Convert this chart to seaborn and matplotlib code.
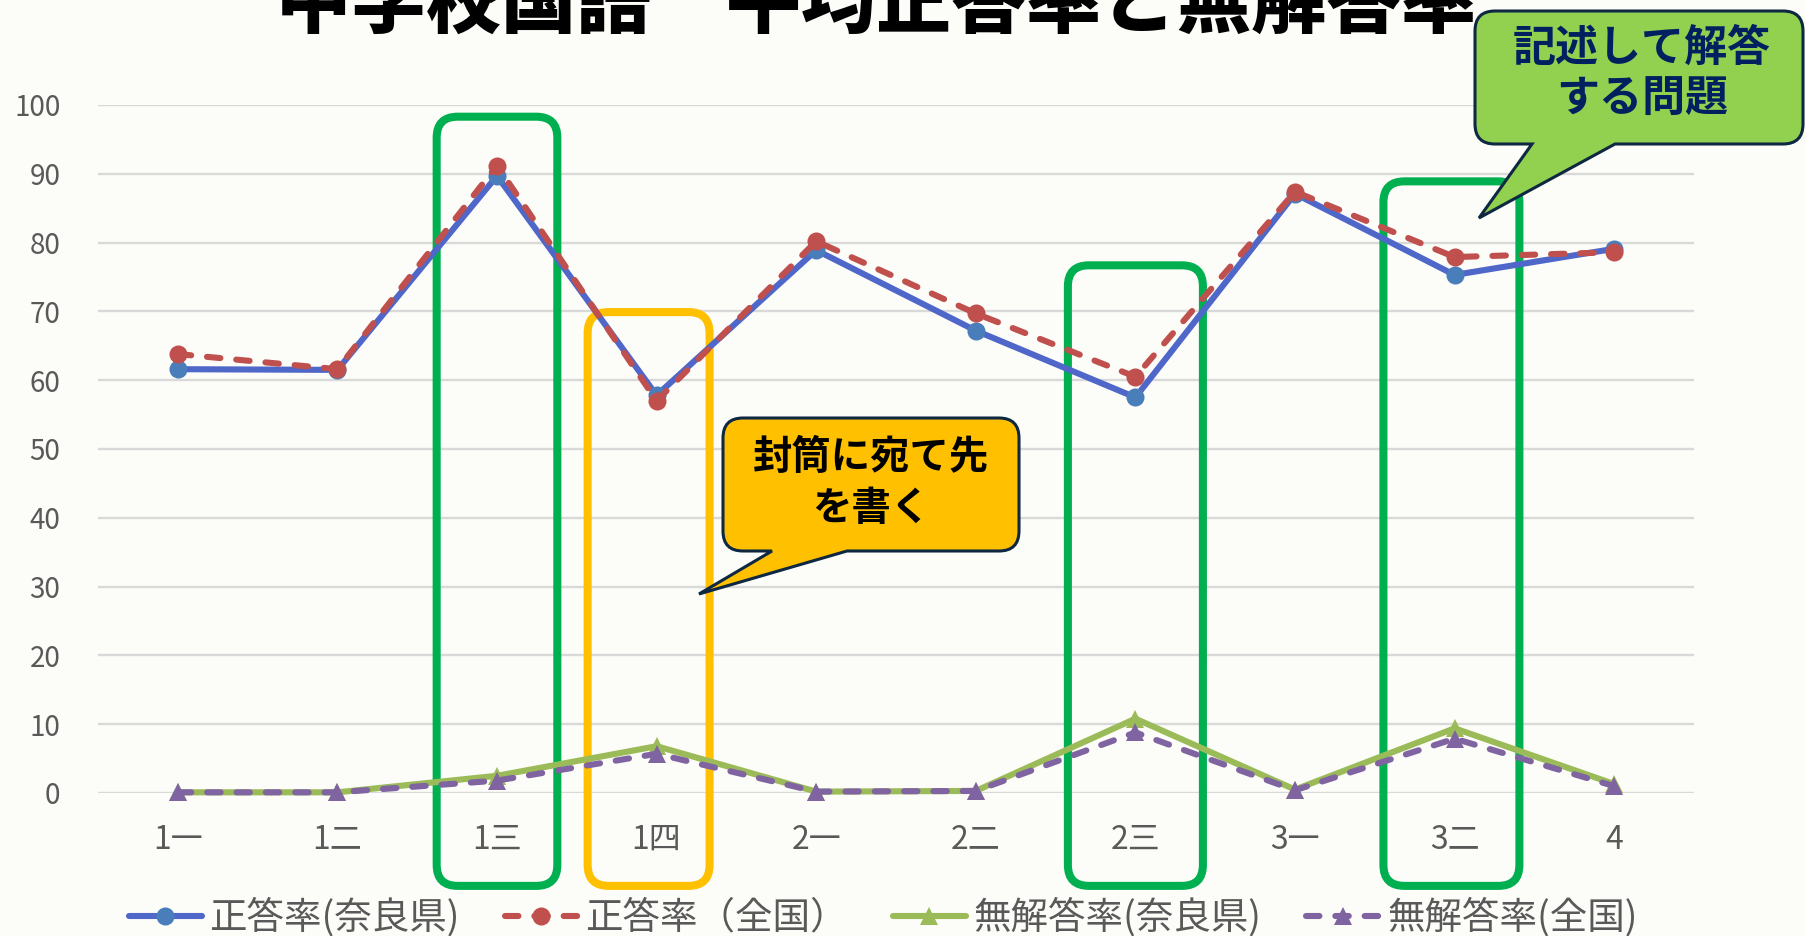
import numpy as np
import pandas as pd
import matplotlib
matplotlib.use("Agg")
import matplotlib.pyplot as plt
import seaborn as sns
from matplotlib.path import Path
from matplotlib.patches import PathPatch

# ---------------- data ----------------
categories = ["1一", "1二", "1三", "1四", "2一", "2二", "2三", "3一", "3二", "4"]
seikai_nara = [61.6, 61.5, 89.7, 57.8, 78.9, 67.2, 57.5, 87.1, 75.3, 79.1]
seikai_zenkoku = [63.8, 61.6, 91.2, 57.0, 80.2, 69.7, 60.5, 87.4, 77.9, 78.6]
mukaito_nara = [0.1, 0.1, 2.5, 6.8, 0.2, 0.3, 10.8, 0.5, 9.4, 1.3]
mukaito_zenkoku = [0.1, 0.1, 1.8, 5.7, 0.2, 0.3, 8.8, 0.4, 7.9, 1.0]
series_labels = ["正答率(奈良県)", "正答率（全国）", "無解答率(奈良県)", "無解答率(全国)"]
title_text = "中学校国語　平均正答率と無解答率"
yticks = list(range(0, 101, 10))

# highlight boxes: (category index centre, half width, top value, colour)
highlight_boxes = [(2.0, 0.378, 98.3, "#00B050"),
                   (2.95, 0.382, 69.9, "#FFC000"),
                   (6.0, 0.423, 76.7, "#00B050"),
                   (7.98, 0.426, 88.9, "#00B050")]
box_bottom = -13.5

df = pd.DataFrame({
    "問題": categories,
    "x": np.arange(len(categories)),
    series_labels[0]: seikai_nara,
    series_labels[1]: seikai_zenkoku,
    series_labels[2]: mukaito_nara,
    series_labels[3]: mukaito_zenkoku,
})

# ---------------- style ----------------
sns.set_theme(style="white")
plt.rcParams["font.family"] = ["Noto Sans CJK JP", "DejaVu Sans"]
plt.rcParams["axes.unicode_minus"] = False

W, H = 1805, 936
BG = "#FCFDF8"
fig = plt.figure(figsize=(W / 100, H / 100), dpi=100, facecolor=BG)
ax = fig.add_axes([98 / W, 1 - 793 / H, 1596 / W, 688 / H])
ax.set_facecolor(BG)

styles = [
    dict(color="#4F67C9", marker="o", mfc="#4A7EBB", ls="-", ms=13),
    dict(color="#C0504D", marker="o", mfc="#C0504D", ls="--", ms=13),
    dict(color="#9BBB59", marker="^", mfc="#9BBB59", ls="-", ms=12.5),
    dict(color="#8064A2", marker="^", mfc="#8064A2", ls="--", ms=12.5),
]

for lab, st in zip(series_labels, styles):
    sns.lineplot(data=df, x="x", y=lab, ax=ax, label=lab, color=st["color"],
                 marker=st["marker"], markersize=st["ms"], markerfacecolor=st["mfc"],
                 markeredgecolor=st["mfc"], markeredgewidth=0, linewidth=4.4,
                 errorbar=None, sort=False, zorder=3)
    line = ax.lines[-1]
    line.set_clip_on(False)
    if st["ls"] == "--":
        line.set_dashes((2.2, 2.6))
        line.set_dash_capstyle("round")
    line.set_solid_capstyle("round")

ax.set_xlim(-0.5, len(categories) - 0.5)
ax.set_ylim(0, 100)
ax.set_yticks(yticks)
ax.set_xticks(df["x"])
ax.set_xticklabels(categories)
ax.set_xlabel("")
ax.set_ylabel("")
for s in ax.spines.values():
    s.set_visible(False)
ax.yaxis.grid(True, color="#D9D9D9", linewidth=1.7)
ax.xaxis.grid(False)
ax.set_axisbelow(True)
ax.tick_params(axis="y", length=0, pad=27, labelsize=20, labelcolor="#595959")
ax.tick_params(axis="x", length=0, pad=22, labelsize=23, labelcolor="#595959")

handles, labels = ax.get_legend_handles_labels()
if ax.get_legend() is not None:
    ax.get_legend().remove()


# ---------------- helpers ----------------
def rounded_path(x0, y0, x1, y1, r, tail=None):
    """Coordinates with y downward (pixels from top). tail=(xl, xr, tipx, tipy) on bottom edge."""
    verts = [(x0 + r, y0), (x1 - r, y0), (x1, y0), (x1, y0 + r), (x1, y1 - r), (x1, y1), (x1 - r, y1)]
    codes = [Path.MOVETO, Path.LINETO, Path.CURVE3, Path.CURVE3, Path.LINETO, Path.CURVE3, Path.CURVE3]
    if tail is not None:
        xl, xr, tx, ty = tail
        verts += [(xr, y1), (tx, ty), (xl, y1)]
        codes += [Path.LINETO] * 3
    verts += [(x0 + r, y1), (x0, y1), (x0, y1 - r), (x0, y0 + r), (x0, y0), (x0 + r, y0), (x0 + r, y0)]
    codes += [Path.LINETO, Path.CURVE3, Path.CURVE3, Path.LINETO, Path.CURVE3, Path.CURVE3, Path.CLOSEPOLY]
    verts = [(vx / W, 1 - vy / H) for vx, vy in verts]
    return Path(verts, codes)


def data_to_px(x, y):
    dx, dy = ax.transData.transform((x, y))
    return dx, H - dy


# highlight boxes (behind the lines)
for cx, hw, top, col in highlight_boxes:
    xa, ya = data_to_px(cx - hw, top)
    xb, yb = data_to_px(cx + hw, box_bottom)
    p = rounded_path(xa, ya, xb, yb, 21)
    patch = PathPatch(p, transform=fig.transFigure, facecolor="none", edgecolor=col,
                      linewidth=5.8, clip_on=False, zorder=2)
    ax.add_patch(patch)

# callouts
NAVY = "#0E2841"
c1 = PathPatch(rounded_path(723, 418, 1019, 551, 20, tail=(772, 847, 699, 594)),
               transform=fig.transFigure, facecolor="#FFC000", edgecolor=NAVY,
               linewidth=2.2, zorder=10)
fig.add_artist(c1)
fig.text(871 / W, 1 - 457 / H, "封筒に宛て先", ha="center", va="center", fontsize=28.4,
         fontweight="bold", color="black", zorder=11)
fig.text(871 / W, 1 - 508 / H, "を書く", ha="center", va="center", fontsize=28.4,
         fontweight="bold", color="black", zorder=11)

c2 = PathPatch(rounded_path(1475, 11, 1803, 144, 20, tail=(1532, 1615, 1479, 218)),
               transform=fig.transFigure, facecolor="#92D050", edgecolor=NAVY,
               linewidth=2.2, zorder=10)
fig.add_artist(c2)
fig.text(1642 / W, 1 - 48 / H, "記述して解答", ha="center", va="center", fontsize=31,
         fontweight="bold", color="#002060", zorder=11)
fig.text(1642 / W, 1 - 99 / H, "する問題", ha="center", va="center", fontsize=31,
         fontweight="bold", color="#002060", zorder=11)

# title (cut by the top edge as in the original)
fig.text(876 / W, 1 - 27 / H, title_text, ha="center", va="baseline", fontsize=54,
         fontweight="heavy", color="black", zorder=12)

# legend
leg = fig.legend(handles, labels, loc="center", bbox_to_anchor=(883 / W, 1 - 918 / H),
                 ncol=4, frameon=False, fontsize=27, handlelength=1.95, handletextpad=0.2,
                 columnspacing=1.2, borderpad=0, borderaxespad=0)
for t in leg.get_texts():
    t.set_color("#595959")

fig.savefig("out.png", dpi=100, facecolor=BG)
